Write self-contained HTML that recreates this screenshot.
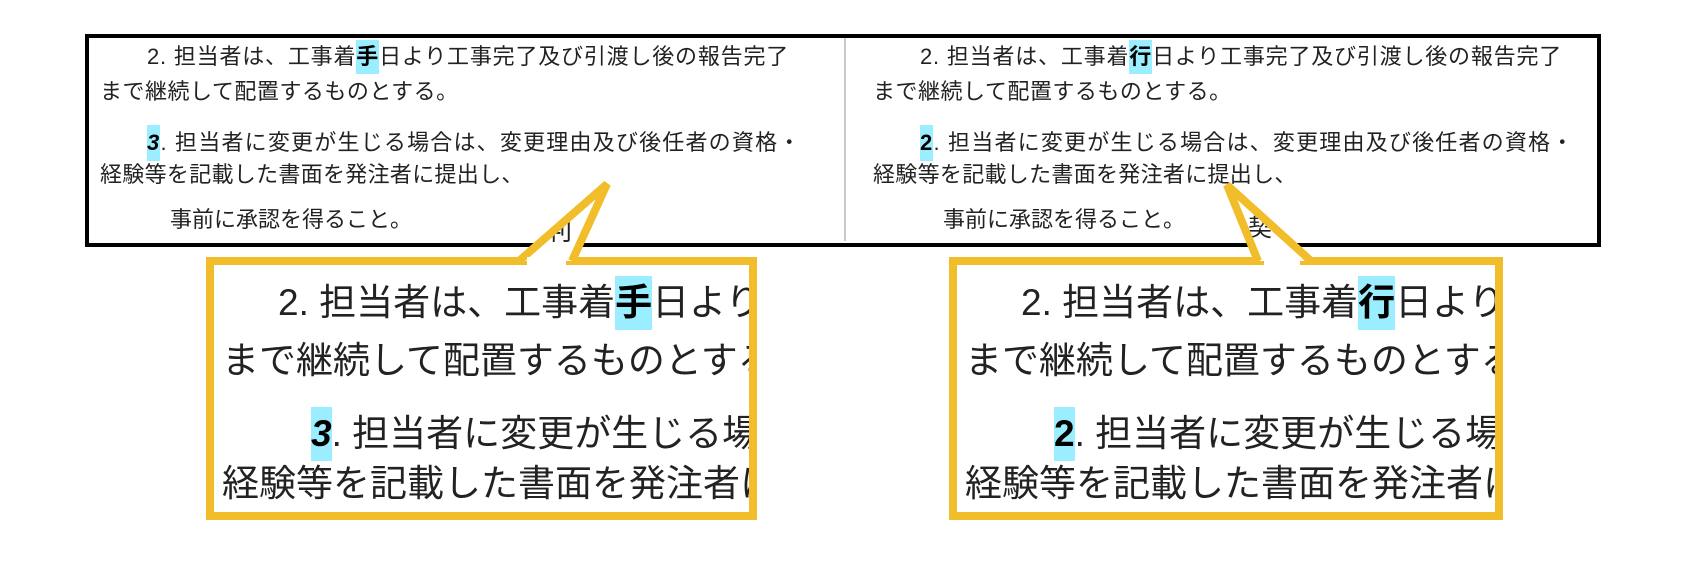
<!DOCTYPE html>
<html><head><meta charset="utf-8"><style>
html,body{margin:0;padding:0;background:#fff;}
body{width:1702px;height:566px;position:relative;overflow:hidden;font-family:"Liberation Sans","Noto Sans CJK JP",sans-serif;color:#222;}
.s{position:absolute;font-size:22px;line-height:30px;white-space:nowrap;}
.hl{background:#9beeff;display:inline-block;font-weight:bold;color:#000;}
.box{position:absolute;overflow:hidden;}
.c{position:absolute;font-size:37px;line-height:54px;white-space:nowrap;}
svg{position:absolute;left:0;top:0;}
</style></head><body>
<div style="position:absolute;left:85px;top:34px;width:1508px;height:205px;border:4px solid #000;"></div>
<div style="position:absolute;left:844px;top:38px;width:2px;height:203px;background:#c8c8c8;"></div>

<div class="s" style="left:147px;top:40px;letter-spacing:0.8px;">2. 担当者は、工事着<span class="hl" style="line-height:34px;">手</span>日より工事完了及び引渡し後の報告完了</div>
<div class="s" style="left:100px;top:77px;letter-spacing:0.5px;">まで継続して配置するものとする。</div>
<div class="s" style="left:147px;top:125px;letter-spacing:1.2px;"><span class="hl" style="line-height:36px;font-style:italic;">3</span>. 担当者に変更が生じる場合は、変更理由及び後任者の資格・</div>
<div class="s" style="left:100px;top:160px;letter-spacing:0.3px;">経験等を記載した書面を発注者に提出し、</div>
<div class="s" style="left:170px;top:205px;">事前に承認を得ること。</div>

<div class="s" style="left:920px;top:40px;letter-spacing:0.8px;">2. 担当者は、工事着<span class="hl" style="line-height:34px;">行</span>日より工事完了及び引渡し後の報告完了</div>
<div class="s" style="left:873px;top:77px;letter-spacing:0.5px;">まで継続して配置するものとする。</div>
<div class="s" style="left:920px;top:125px;letter-spacing:1.2px;"><span class="hl" style="line-height:36px;">2</span>. 担当者に変更が生じる場合は、変更理由及び後任者の資格・</div>
<div class="s" style="left:873px;top:160px;letter-spacing:0.3px;">経験等を記載した書面を発注者に提出し、</div>
<div class="s" style="left:943px;top:205px;">事前に承認を得ること。</div>

<svg width="1702" height="566" viewBox="0 0 1702 566">
<defs>
<clipPath id="p1"><polygon points="525,261 607,184 572,261"/></clipPath>
<clipPath id="p2"><polygon points="1260,263 1227,185 1305,263"/></clipPath>
</defs>
<rect x="210" y="261" width="543" height="255" fill="#fff" stroke="#f2bd2a" stroke-width="8"/>
<polygon points="525,261 607,184 572,261" fill="#fff"/>
<text x="546" y="240" font-size="26" fill="#222" clip-path="url(#p1)" font-family="Noto Sans CJK JP, sans-serif">判</text>
<polyline points="519,261 607,184 572,261" fill="none" stroke="#f2bd2a" stroke-width="8" stroke-linejoin="miter"/>
<line x1="527" y1="261" x2="566" y2="261" stroke="#fff" stroke-width="8"/>
<rect x="953" y="261" width="546" height="255" fill="#fff" stroke="#f2bd2a" stroke-width="8"/>
<polygon points="1260,261 1227,185 1305,261" fill="#fff"/>
<text x="1248" y="236" font-size="24" fill="#222" clip-path="url(#p2)" font-family="Noto Sans CJK JP, sans-serif">契</text>
<polyline points="1258,261 1227,185 1311,261" fill="none" stroke="#f2bd2a" stroke-width="8" stroke-linejoin="miter"/>
<line x1="1264" y1="261" x2="1300" y2="261" stroke="#fff" stroke-width="8"/>
</svg>

<div class="box" style="left:214px;top:265px;width:535px;height:247px;">
<div class="c" style="left:64px;top:11px;">2. 担当者は、工事着<span class="hl">手</span>日より工事完了</div>
<div class="c" style="left:8px;top:69px;">まで継続して配置するものとする。</div>
<div class="c" style="left:97px;top:142px;"><span class="hl" style="font-style:italic;">3</span>. 担当者に変更が生じる場合は</div>
<div class="c" style="left:8px;top:192px;">経験等を記載した書面を発注者に提出し</div>
</div>
<div class="box" style="left:957px;top:265px;width:538px;height:247px;">
<div class="c" style="left:64px;top:11px;">2. 担当者は、工事着<span class="hl">行</span>日より工事完了</div>
<div class="c" style="left:8px;top:69px;">まで継続して配置するものとする。</div>
<div class="c" style="left:97px;top:142px;"><span class="hl">2</span>. 担当者に変更が生じる場合は</div>
<div class="c" style="left:8px;top:192px;">経験等を記載した書面を発注者に提出し</div>
</div>
</body></html>
